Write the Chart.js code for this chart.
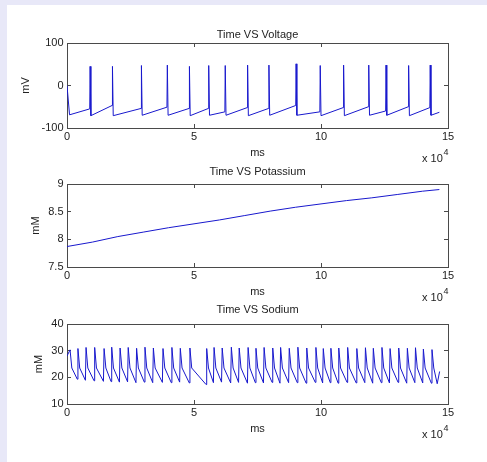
<!DOCTYPE html>
<html>
<head>
<meta charset="utf-8">
<script src="https://cdn.jsdelivr.net/npm/chart.js@4.4.1/dist/chart.umd.min.js"></script>
<style>
  html, body { margin: 0; padding: 0; }
  body { width: 487px; height: 462px; background: #e8e8f8; position: relative; overflow: hidden; }
  #panel { position: absolute; left: 7px; top: 5px; width: 480px; height: 457px; background: #fff; }
  canvas { position: absolute; left: 0; }
</style>
</head>
<body>
<div id="panel"></div>
<canvas id="voltageChart" width="487" height="168" style="top:0px"></canvas>
<canvas id="potassiumChart" width="487" height="166" style="top:141px"></canvas>
<canvas id="sodiumChart" width="487" height="163" style="top:281px"></canvas>
<script>
/* ================= DATA (time in ms) ================= */
const xTicks = [0, 50000, 100000, 150000];

// voltage: trace start, then for each spike the level just before, the peak, the level just after
const vStartT = [0, 1000];
const vStartV = [0, -69];
const vSpikeT = [9100, 17900, 29300, 39500, 48200, 55800, 62300, 71100, 79500, 90200, 99700, 108900, 118800, 125600, 134500, 143000];
const vPre    = [-55, -47, -54, -51, -54, -54, -62, -52, -54, -47, -62, -52, -50, -60, -50, -52];
const vPeak   = [45, 45, 47, 48, 45, 47, 47, 48, 48, 51, 47, 48, 48, 48, 47, 48];
const vAfter  = [-71, -71, -70, -70, -71, -70, -70, -71, -70, -70, -71, -71, -70, -70, -71, -70];
const vEndT = 146600;
const vEndV = -63;
const vTicks = [-100, 0, 100];

// potassium
const kT   = [0, 10000, 20000, 30000, 40000, 50000, 60000, 70000, 80000, 90000, 100000, 110000, 120000, 130000, 140000, 146600];
const kVal = [7.87, 7.95, 8.05, 8.13, 8.21, 8.28, 8.35, 8.43, 8.51, 8.58, 8.64, 8.70, 8.75, 8.81, 8.87, 8.90];
const kTicks = [7.5, 8, 8.5, 9];

// sodium: peaks, the level shortly after each peak, and the trough reached before the next rise
const naStart = [0, 28];
const naPeakT = [1200, 4300, 7500, 10900, 14600, 17600, 20900, 24100, 27400, 30700,
                 34000, 37800, 41300, 44600, 48400, 55000, 57900, 61100, 64700, 67800,
                 71300, 74400, 77600, 81000, 84100, 87500, 90900, 94400, 98000, 100900,
                 103900, 107000, 110500, 114100, 117500, 120600, 124000, 127200, 130600, 134000,
                 137200, 140300, 143700];
const naPeak = [30.3, 30.8, 31.2, 31.2, 30.8, 31.3, 31.0, 31.2, 30.9, 31.3,
                31.0, 30.8, 31.2, 30.9, 31.0, 30.8, 31.2, 31.0, 31.3, 31.0,
                31.2, 30.9, 31.2, 31.0, 31.2, 30.9, 31.3, 31.0, 31.2, 30.8,
                30.9, 31.0, 31.2, 30.8, 31.1, 30.9, 31.2, 30.8, 31.0, 30.9,
                31.1, 30.6, 30.4];
const naTrough = [19.3, 18.9, 18.7, 18.5, 18.4, 18.2, 18.3, 18.0, 18.2, 18.0,
                  18.1, 18.0, 18.2, 17.9, 17.3, 18.0, 18.2, 17.9, 18.1, 17.8,
                  18.0, 17.9, 18.1, 17.8, 18.0, 18.0, 17.8, 18.1, 17.9, 18.0,
                  17.8, 18.1, 17.9, 18.0, 17.8, 18.0, 17.9, 18.1, 17.8, 18.0,
                  17.9, 17.8, 17.6];
const naKneeDt = 700;      // about 2 px after the peak
const naKneeV = 23.5;      // level reached there
const naLastRise = 146000;
const naEnd = [146700, 22.2];
const naTicks = [10, 20, 30, 40];

/* ================= BUILD POINTS ================= */
const spikeRise = 150, spikeFall = 300, naRise = 250;

const voltagePts = vStartT.map((t, i) => ({ x: t, y: vStartV[i] }));
vSpikeT.forEach((t, i) => {
  voltagePts.push({ x: t - spikeRise, y: vPre[i] }, { x: t, y: vPeak[i] }, { x: t + spikeFall, y: vAfter[i] });
});
voltagePts.push({ x: vEndT, y: vEndV });

const potassiumPts = kT.map((t, i) => ({ x: t, y: kVal[i] }));

const sodiumPts = [{ x: naStart[0], y: naStart[1] }];
naPeakT.forEach((t, i) => {
  const next = i < naPeakT.length - 1 ? naPeakT[i + 1] : naLastRise;
  sodiumPts.push(
    { x: t, y: naPeak[i] },
    { x: t + naKneeDt, y: naKneeV },
    { x: next - naRise, y: naTrough[i] }
  );
});
sodiumPts.push({ x: naEnd[0], y: naEnd[1] });

/* ================= COMMON STYLE ================= */
const FONT = "'Liberation Sans', Arial, sans-serif";
const TXT = '#222';
const AX = '#4a4a4a';
const LINE = 'rgb(24,24,205)';
Chart.defaults.font.family = FONT;
Chart.defaults.font.size = 11;
Chart.defaults.color = TXT;

const exponentLabel = {
  id: 'exponentLabel',
  afterDraw(chart) {
    const { ctx, chartArea } = chart;
    ctx.save();
    ctx.fillStyle = TXT;
    ctx.textBaseline = 'middle';
    ctx.textAlign = 'left';
    ctx.font = '11px ' + FONT;
    ctx.fillText('x 10', chartArea.right - 26, chartArea.bottom + 31);
    ctx.font = '9px ' + FONT;
    ctx.fillText('4', chartArea.right - 4.5, chartArea.bottom + 25);
    ctx.restore();
  }
};

function makeChart(id, title, titlePad, yLabel, yLabelPad, pts, yTicks) {
  const yMin = yTicks[0], yMax = yTicks[yTicks.length - 1];
  const gridOpts = { drawOnChartArea: false, tickLength: -4, color: AX, lineWidth: 1 };
  const borderOpts = { display: true, color: AX, width: 1 };
  return new Chart(document.getElementById(id), {
    type: 'line',
    data: {
      datasets: [{
        data: pts,
        borderColor: LINE,
        borderWidth: 1,
        pointRadius: 0,
        fill: false,
        tension: 0
      }]
    },
    options: {
      responsive: false,
      animation: false,
      devicePixelRatio: 1,
      layout: { padding: 0 },
      plugins: { legend: { display: false }, tooltip: { enabled: false } },
      scales: {
        x: {
          type: 'linear', position: 'bottom', min: xTicks[0], max: xTicks[xTicks.length - 1],
          afterBuildTicks: s => { s.ticks = xTicks.map(v => ({ value: v })); },
          ticks: { padding: 6.7, maxRotation: 0, callback: v => String(v / 10000) },
          grid: gridOpts, border: borderOpts,
          title: { display: true, text: 'ms', padding: { top: 0, bottom: 8.7 } },
          afterFit: s => { s.height = 40; }
        },
        x2: {
          type: 'linear', position: 'top', min: xTicks[0], max: xTicks[xTicks.length - 1],
          afterBuildTicks: s => { s.ticks = xTicks.map(v => ({ value: v })); },
          ticks: { display: false },
          grid: gridOpts, border: borderOpts,
          title: { display: true, text: title, padding: { top: titlePad, bottom: 0 } },
          afterFit: s => { s.height = 43; }
        },
        y: {
          type: 'linear', position: 'left', min: yMin, max: yMax,
          afterBuildTicks: s => { s.ticks = yTicks.map(v => ({ value: v })); },
          ticks: { padding: 7.5, callback: v => String(v) },
          grid: gridOpts, border: borderOpts,
          title: { display: true, text: yLabel, padding: { top: yLabelPad, bottom: 0 } },
          afterFit: s => { s.width = 67; }
        },
        y2: {
          type: 'linear', position: 'right', min: yMin, max: yMax,
          afterBuildTicks: s => { s.ticks = yTicks.map(v => ({ value: v })); },
          ticks: { display: false },
          grid: gridOpts, border: borderOpts,
          afterFit: s => { s.width = 39; }
        }
      }
    },
    plugins: [exponentLabel]
  });
}

/* ================= CHARTS ================= */
const voltageChart = makeChart('voltageChart', 'Time VS Voltage', 27.9, 'mV', 19.4, voltagePts, vTicks);
const potassiumChart = makeChart('potassiumChart', 'Time VS Potassium', 24.1, 'mM', 29.2, potassiumPts, kTicks);
const sodiumChart = makeChart('sodiumChart', 'Time VS Sodium', 21.9, 'mM', 32, sodiumPts, naTicks);
</script>
</body>
</html>
